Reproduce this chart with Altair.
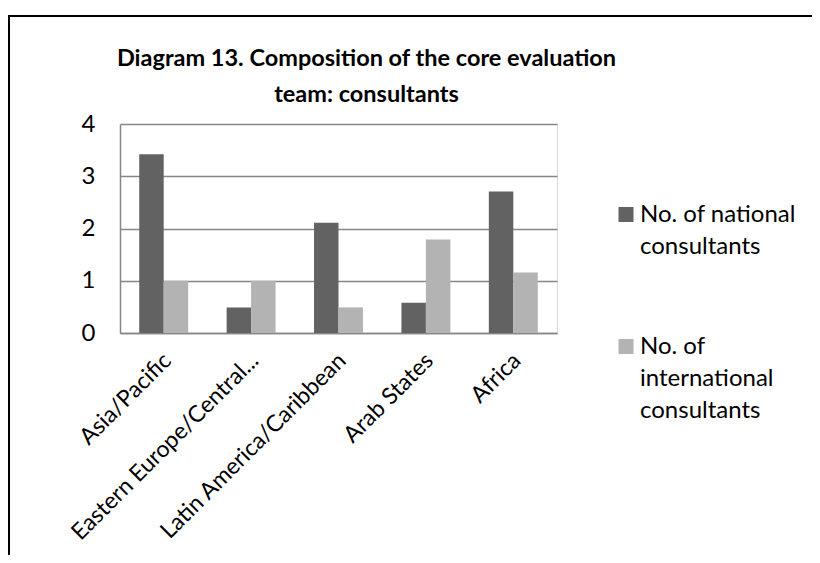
import altair as alt
import pandas as pd

regions = ["Asia/Pacific", "Eastern Europe/Central...", "Latin America/Caribbean", "Arab States", "Africa"]
national = [3.42, 0.49, 2.11, 0.58, 2.71]
international = [1.0, 1.0, 0.49, 1.79, 1.16]
series_names = ["No. of national consultants", "No. of international consultants"]
series_colors = ["#626262", "#b3b3b3"]
y_ticks = [0, 1, 2, 3, 4]
title_lines = ["Diagram 13. Composition of the core evaluation", "team: consultants"]

rows = []
for r, n, i in zip(regions, national, international):
    rows.append({"region": r, "series": series_names[0], "value": n})
    rows.append({"region": r, "series": series_names[1], "value": i})
df = pd.DataFrame(rows)

FONT = "Lato"
AX = "#868686"
FS = 24

bars = alt.Chart(df).mark_bar().encode(
    x=alt.X("region:N", sort=regions, title=None,
            scale=alt.Scale(paddingInner=0.44, paddingOuter=0.22),
            axis=alt.Axis(labelAngle=-45, labelAlign="right", labelBaseline="top",
                          labelFontSize=23, labelFont=FONT, labelColor="black",
                          labelPadding=16, labelOffset=-4, ticks=False, domainColor=AX,
                          domainWidth=1.5, labelLimit=400)),
    xOffset=alt.XOffset("series:N", sort=series_names, scale=alt.Scale(paddingInner=0, paddingOuter=0)),
    y=alt.Y("value:Q", title=None, scale=alt.Scale(domain=[0, 4], nice=False),
            axis=alt.Axis(values=y_ticks, format="d", labelFontSize=FS, labelFont=FONT,
                          labelColor="black", labelPadding=25, ticks=False,
                          domainColor=AX, domainWidth=1.5, gridColor=AX, gridWidth=1.5)),
    color=alt.Color("series:N", sort=series_names,
                    scale=alt.Scale(domain=series_names, range=series_colors),
                    legend=alt.Legend(
                        title=None, orient="none", legendX=494, legendY=86,
                        symbolType="M-1,-2H1V0H-1Z", symbolSize=225, symbolStrokeWidth=0,
                        labelFontSize=FS, labelFont=FONT, labelColor="black",
                        labelBaseline="alphabetic", labelOffset=2,
                        rowPadding=76, labelLimit=400,
                        labelExpr="datum.label == 'No. of national consultants' ? ['No. of national', 'consultants'] : ['No. of', 'international', 'consultants']")),
)

frame_df = pd.DataFrame({"a": [0]})
top_line = alt.Chart(frame_df).mark_rule(color="black", strokeWidth=2).encode(
    x=alt.value(-111), x2=alt.value(700), y=alt.value(-108))
left_line = alt.Chart(frame_df).mark_rule(color="black", strokeWidth=2).encode(
    x=alt.value(-111), y=alt.value(-109), y2=alt.value(520))

chart = alt.layer(top_line, left_line, bars).properties(
    width=437, height=209,
    title=alt.TitleParams(text=title_lines, fontSize=23.5, font=FONT, fontWeight="bold",
                          anchor="middle", frame="group", dx=28, offset=0, dy=92,
                          lineHeight=36, color="black"),
    autosize=alt.AutoSizeParams(type="none"),
    padding={"left": 112, "top": 116, "right": 255, "bottom": 222},
).configure_view(stroke=None).configure(style={"guide-label": {"lineHeight": 32}})

chart.save("out.html", embed_options={"renderer": "svg", "actions": False})
